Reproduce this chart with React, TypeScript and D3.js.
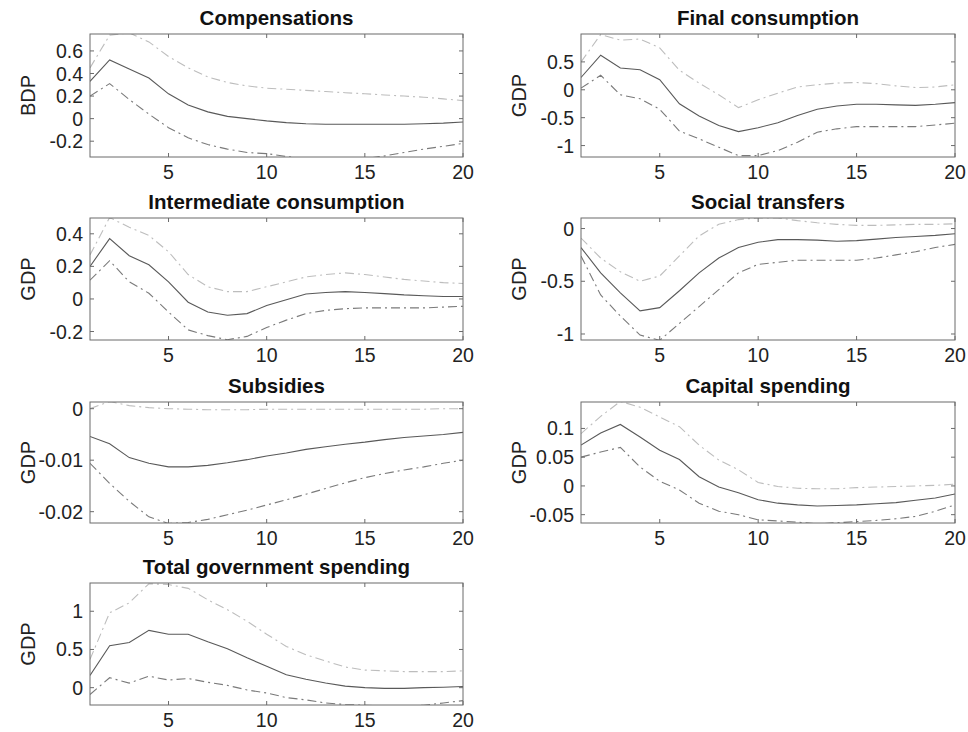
import React from "react";
import * as d3 from "d3";

// horizon (quarters)
const horizon = [1, 2, 3, 4, 5, 6, 7, 8, 9, 10, 11, 12, 13, 14, 15, 16, 17, 18, 19, 20];
const xTicks = [5, 10, 15, 20];

// Compensations
const compMid = [0.33, 0.52, 0.44, 0.36, 0.22, 0.12, 0.06, 0.02, 0.0, -0.02, -0.035, -0.045, -0.05, -0.05, -0.05, -0.05, -0.05, -0.045, -0.04, -0.03];
const compUp = [0.45, 0.74, 0.76, 0.68, 0.55, 0.45, 0.37, 0.32, 0.29, 0.27, 0.26, 0.25, 0.24, 0.23, 0.22, 0.21, 0.2, 0.19, 0.175, 0.16];
const compLo = [0.2, 0.31, 0.17, 0.04, -0.08, -0.17, -0.23, -0.27, -0.3, -0.31, -0.335, -0.355, -0.37, -0.37, -0.355, -0.33, -0.3, -0.27, -0.245, -0.22];
const compTicks = [-0.2, 0, 0.2, 0.4, 0.6];

// Final consumption
const finMid = [0.22, 0.62, 0.39, 0.36, 0.18, -0.25, -0.47, -0.64, -0.75, -0.68, -0.59, -0.46, -0.35, -0.29, -0.26, -0.26, -0.27, -0.28, -0.26, -0.23];
const finUp = [0.5, 0.99, 0.89, 0.91, 0.75, 0.35, 0.12, -0.09, -0.32, -0.18, -0.06, 0.05, 0.09, 0.12, 0.13, 0.11, 0.07, 0.04, 0.05, 0.09];
const finLo = [0.03, 0.26, -0.09, -0.16, -0.35, -0.74, -0.88, -1.03, -1.18, -1.18, -1.09, -0.94, -0.76, -0.7, -0.66, -0.66, -0.66, -0.66, -0.63, -0.6];
const finTicks = [-1, -0.5, 0, 0.5];

// Intermediate consumption
const intMid = [0.2, 0.37, 0.265, 0.21, 0.105, -0.02, -0.08, -0.1, -0.09, -0.04, -0.005, 0.03, 0.04, 0.045, 0.04, 0.033, 0.025, 0.02, 0.015, 0.015];
const intUp = [0.27, 0.5, 0.44, 0.39, 0.29, 0.15, 0.075, 0.045, 0.045, 0.075, 0.105, 0.135, 0.15, 0.16, 0.15, 0.135, 0.12, 0.11, 0.1, 0.095];
const intLo = [0.115, 0.235, 0.105, 0.035, -0.08, -0.19, -0.225, -0.25, -0.23, -0.175, -0.13, -0.09, -0.07, -0.06, -0.055, -0.055, -0.055, -0.055, -0.05, -0.045];
const intTicks = [-0.2, 0, 0.2, 0.4];

// Social transfers
const socMid = [-0.18, -0.42, -0.61, -0.78, -0.75, -0.59, -0.42, -0.28, -0.18, -0.13, -0.105, -0.105, -0.11, -0.12, -0.115, -0.1, -0.085, -0.075, -0.065, -0.05];
const socUp = [-0.09, -0.28, -0.41, -0.5, -0.45, -0.26, -0.07, 0.04, 0.085, 0.1, 0.1, 0.075, 0.055, 0.04, 0.03, 0.03, 0.035, 0.04, 0.04, 0.045];
const socLo = [-0.26, -0.63, -0.83, -1.01, -1.06, -0.9, -0.74, -0.58, -0.42, -0.34, -0.32, -0.3, -0.3, -0.3, -0.3, -0.28, -0.25, -0.22, -0.18, -0.15];
const socTicks = [-1, -0.5, 0];

// Subsidies
const subMid = [-0.0054, -0.0068, -0.0095, -0.0106, -0.0113, -0.0113, -0.011, -0.0105, -0.0099, -0.0092, -0.0086, -0.0079, -0.0074, -0.0069, -0.0065, -0.006, -0.0056, -0.0053, -0.005, -0.0046];
const subUp = [0.0, 0.0014, 0.0006, 0.0002, 0.0, -0.0001, -0.0002, -0.0002, -0.0002, -0.0001, -0.0001, -0.0001, -0.0001, -0.0001, -0.0001, -0.0001, -0.0001, -0.0001, 0.0, 0.0];
const subLo = [-0.0106, -0.0145, -0.018, -0.021, -0.0223, -0.0221, -0.0215, -0.0206, -0.0197, -0.0187, -0.0177, -0.0166, -0.0155, -0.0144, -0.0134, -0.0126, -0.0119, -0.0113, -0.0106, -0.01];
const subTicks = [-0.02, -0.01, 0];

// Capital spending
const capMid = [0.071, 0.092, 0.107, 0.085, 0.062, 0.046, 0.016, -0.002, -0.012, -0.024, -0.03, -0.033, -0.035, -0.034, -0.033, -0.031, -0.029, -0.025, -0.021, -0.014];
const capUp = [0.091, 0.121, 0.147, 0.137, 0.12, 0.103, 0.071, 0.045, 0.028, 0.006, -0.001, -0.004, -0.005, -0.005, -0.003, -0.002, -0.001, 0.0, 0.001, 0.003];
const capLo = [0.05, 0.059, 0.067, 0.033, 0.008, -0.007, -0.03, -0.044, -0.05, -0.059, -0.061, -0.063, -0.066, -0.064, -0.062, -0.06, -0.057, -0.053, -0.044, -0.033];
const capTicks = [-0.05, 0, 0.05, 0.1];

// Total government spending
const totMid = [0.16, 0.55, 0.59, 0.75, 0.7, 0.7, 0.6, 0.51, 0.39, 0.28, 0.17, 0.11, 0.06, 0.02, 0.0, -0.01, -0.01, 0.0, 0.005, 0.015];
const totUp = [0.37, 0.98, 1.11, 1.36, 1.35, 1.3, 1.15, 1.02, 0.87, 0.7, 0.54, 0.43, 0.35, 0.27, 0.23, 0.22, 0.21, 0.21, 0.21, 0.22];
const totLo = [-0.09, 0.13, 0.06, 0.15, 0.1, 0.12, 0.07, 0.03, -0.03, -0.07, -0.13, -0.16, -0.2, -0.22, -0.23, -0.24, -0.24, -0.23, -0.2, -0.17];
const totTicks = [0, 0.5, 1];

const panels = [
  { title: "Compensations", ylabel: "BDP", mid: compMid, up: compUp, lo: compLo, ticks: compTicks, domain: [-0.34, 0.75], col: 0, row: 0 },
  { title: "Final consumption", ylabel: "GDP", mid: finMid, up: finUp, lo: finLo, ticks: finTicks, domain: [-1.205, 1.0], col: 1, row: 0 },
  { title: "Intermediate consumption", ylabel: "GDP", mid: intMid, up: intUp, lo: intLo, ticks: intTicks, domain: [-0.252, 0.497], col: 0, row: 1 },
  { title: "Social transfers", ylabel: "GDP", mid: socMid, up: socUp, lo: socLo, ticks: socTicks, domain: [-1.057, 0.1], col: 1, row: 1 },
  { title: "Subsidies", ylabel: "GDP", mid: subMid, up: subUp, lo: subLo, ticks: subTicks, domain: [-0.0222, 0.0013], col: 0, row: 2 },
  { title: "Capital spending", ylabel: "GDP", mid: capMid, up: capUp, lo: capLo, ticks: capTicks, domain: [-0.0645, 0.146], col: 1, row: 2 },
  { title: "Total government spending", ylabel: "GDP", mid: totMid, up: totUp, lo: totLo, ticks: totTicks, domain: [-0.227, 1.37], col: 0, row: 3 },
];

const colX = [[90, 463], [581, 955]];
const rowY = [[34, 157], [218, 340], [402, 523], [583, 705]];

const FONT = "'Liberation Sans', Arial, Helvetica, sans-serif";
const BOX = "#6b6b6b";

function Panel({ p, idx }: { p: any; idx: number }) {
  const [x0, x1] = colX[p.col];
  const [y0, y1] = rowY[p.row];
  const x = d3.scaleLinear().domain([1, 20]).range([x0, x1]);
  const y = d3.scaleLinear().domain(p.domain).range([y1, y0]);
  const line = d3
    .line<number>()
    .x((_, i) => x(horizon[i]))
    .y((d) => y(d));
  const clipId = `clip-${idx}`;
  const tl = 4;
  return (
    <g>
      <defs>
        <clipPath id={clipId}>
          <rect x={x0} y={y0} width={x1 - x0} height={y1 - y0} />
        </clipPath>
      </defs>
      <g clipPath={`url(#${clipId})`} fill="none">
        <path d={line(p.up) || ""} stroke="#bdbdbd" strokeWidth={1.1} strokeDasharray="9,4,2,4" />
        <path d={line(p.lo) || ""} stroke="#7a7a7a" strokeWidth={1.1} strokeDasharray="9,4,2,4" />
        <path d={line(p.mid) || ""} stroke="#595959" strokeWidth={1.1} />
      </g>
      <rect x={x0} y={y0} width={x1 - x0} height={y1 - y0} fill="none" stroke={BOX} strokeWidth={1} />
      {xTicks.map((t) => (
        <g key={`xt${t}`}>
          <line x1={x(t)} x2={x(t)} y1={y1} y2={y1 - tl} stroke={BOX} />
          <line x1={x(t)} x2={x(t)} y1={y0} y2={y0 + tl} stroke={BOX} />
          <text x={x(t)} y={y1 + 22} textAnchor="middle" fontFamily={FONT} fontSize={19.5} fill="#222">
            {t}
          </text>
        </g>
      ))}
      {p.ticks.map((t: number) => (
        <g key={`yt${t}`}>
          <line x1={x0} x2={x0 + tl} y1={y(t)} y2={y(t)} stroke={BOX} />
          <line x1={x1} x2={x1 - tl} y1={y(t)} y2={y(t)} stroke={BOX} />
          <text x={x0 - 7} y={y(t)} dy="0.36em" textAnchor="end" fontFamily={FONT} fontSize={19.5} fill="#222">
            {String(t)}
          </text>
        </g>
      ))}
      <text
        x={(x0 + x1) / 2}
        y={y0 - 9}
        textAnchor="middle"
        fontFamily={FONT}
        fontSize={20.5}
        fontWeight="bold"
        fill="#111"
      >
        {p.title}
      </text>
      <text
        transform={`translate(${p.col === 0 ? 35 : 526},${(y0 + y1) / 2}) rotate(-90)`}
        textAnchor="middle"
        fontFamily={FONT}
        fontSize={20}
        fill="#222"
      >
        {p.ylabel}
      </text>
    </g>
  );
}

export default function App() {
  return (
    <svg width={968} height={732} style={{ position: "absolute", left: 0, top: 0, background: "#fff" }}>
      <rect width={968} height={732} fill="#fff" />
      {panels.map((p, i) => (
        <Panel key={p.title} p={p} idx={i} />
      ))}
    </svg>
  );
}
